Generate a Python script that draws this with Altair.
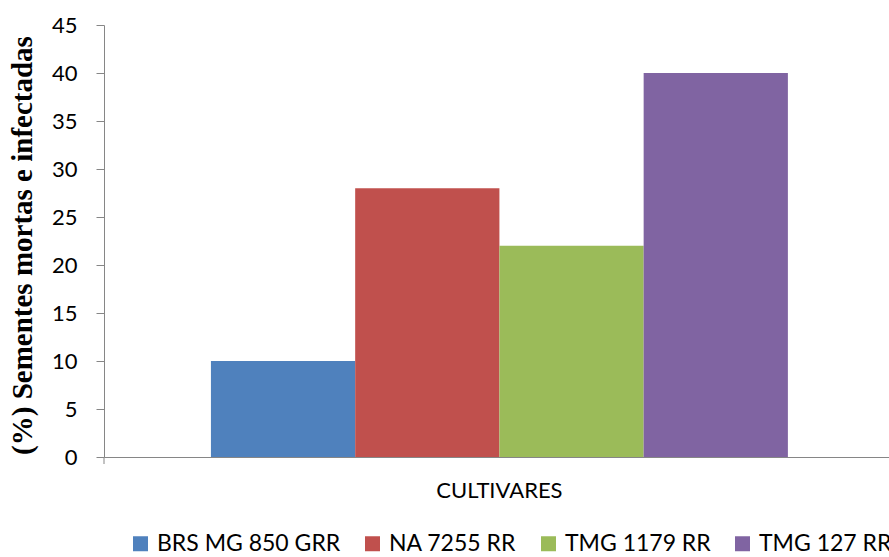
import altair as alt
import pandas as pd

# Seeds recorded as dead and infected, per cultivar
cultivares = ["BRS MG 850 GRR", "NA 7255 RR", "TMG 1179 RR", "TMG 127 RR"]
percentuais = [10, 28, 22, 40]
cores = ["#4F81BD", "#C0504D", "#9BBB59", "#8064A2"]
grupo = "CULTIVARES"
marcas_y = [0, 5, 10, 15, 20, 25, 30, 35, 40, 45]

df = pd.DataFrame({
    "grupo": [grupo] * len(cultivares),
    "cultivar": cultivares,
    "valor": percentuais,
})

W, H = 785, 432
CINZA = "#868686"

barras = alt.Chart(df).mark_bar().encode(
    x=alt.X(
        "grupo:N",
        scale=alt.Scale(paddingInner=0, paddingOuter=0.1803, align=0.514),
        axis=alt.Axis(
            title=None, labelAngle=0, ticks=False,
            domainColor=CINZA, domainWidth=1,
            labelFont="Lato", labelFontSize=22, labelColor="black",
            labelPadding=23,
        ),
    ),
    xOffset=alt.XOffset(
        "cultivar:N", sort=cultivares,
        scale=alt.Scale(paddingInner=0, paddingOuter=0),
    ),
    y=alt.Y(
        "valor:Q",
        scale=alt.Scale(domain=[0, 45], nice=False),
        axis=alt.Axis(
            values=marcas_y, grid=False,
            tickSize=8, tickColor=CINZA, domainColor=CINZA,
            labelFont="Lato", labelFontSize=22, labelColor="black",
            labelPadding=19,
            title="(%) Sementes mortas e infectadas",
            titleFont="Liberation Serif", titleFontWeight="bold",
            titleFontSize=29, titleColor="black", titlePadding=14,
            titleY=220,
        ),
    ),
    color=alt.Color(
        "cultivar:N", sort=cultivares,
        scale=alt.Scale(domain=cultivares, range=cores),
        legend=alt.Legend(
            title=None, orient="none", direction="horizontal",
            legendX=25, legendY=507,
            symbolType="square", symbolSize=225, symbolStrokeWidth=0,
            symbolOpacity=1,
            labelFont="Lato", labelFontSize=23, labelColor="black",
            labelOffset=5, columnPadding=20, labelLimit=400,
        ),
    ),
)

# small category tick below the left end of the horizontal axis
marca = alt.Chart(pd.DataFrame({"k": [0]})).mark_rule(color=CINZA).encode(
    x=alt.value(0), y=alt.value(H), y2=alt.value(H + 7)
)

chart = alt.layer(barras, marca).properties(
    width=W, height=H,
    autosize=alt.AutoSizeParams(type="none"),
    padding={"left": 104, "top": 25, "right": 0, "bottom": 100},
    background="white",
).configure_view(stroke=None)

chart.save("out.html", embed_options={"renderer": "svg", "actions": False})
